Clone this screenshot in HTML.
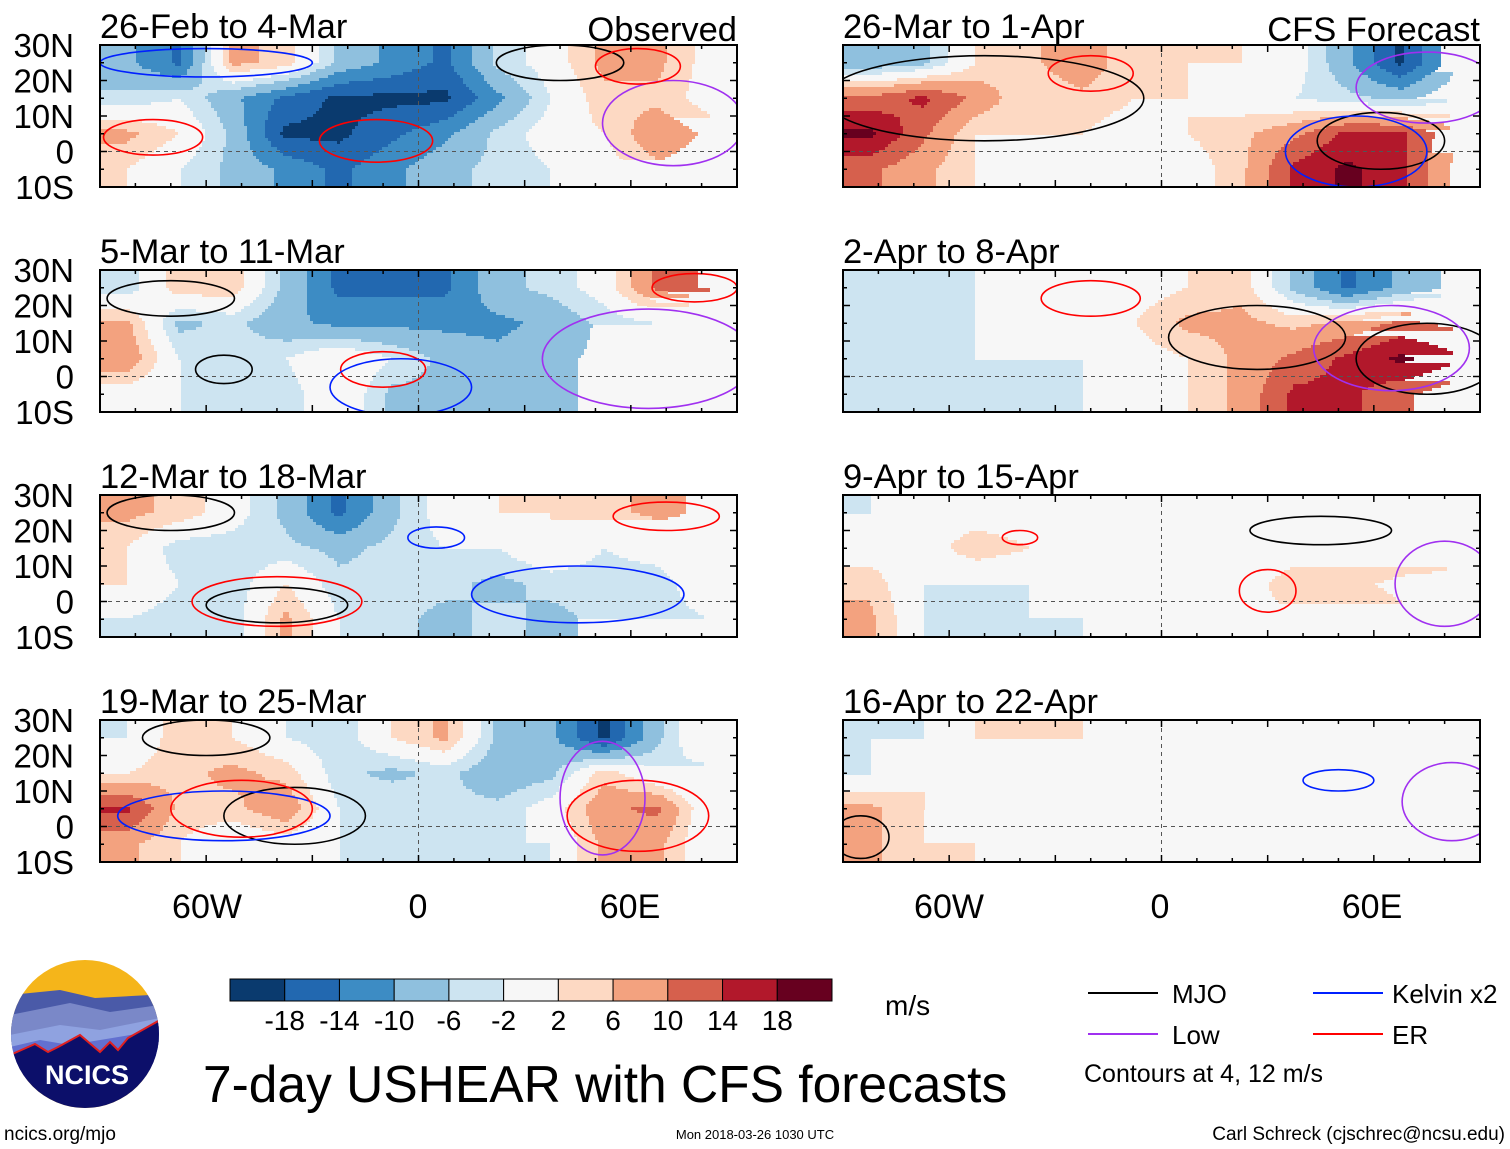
<!DOCTYPE html>
<html><head><meta charset="utf-8">
<style>
body{margin:0;background:#fff;}
svg{display:block;font-family:"Liberation Sans",sans-serif;}
</style></head>
<body>
<svg id="chart" width="1510" height="1149" viewBox="0 0 1510 1149" xmlns="http://www.w3.org/2000/svg">
<g id="panels"></g>

<g font-size="34" text-anchor="middle">
<text x="207" y="918">60W</text>
<text x="418" y="918">0</text>
<text x="630" y="918">60E</text>
<text x="949" y="918">60W</text>
<text x="1160" y="918">0</text>
<text x="1372" y="918">60E</text>
</g>

<g id="colorbar"></g>
<text x="885" y="1015" font-size="28">m/s</text>

<g>
<clipPath id="logoclip"><circle cx="85" cy="1034" r="74"/></clipPath>
<g clip-path="url(#logoclip)">
<rect x="0" y="955" width="170" height="160" fill="#f5b51a"/>
<path d="M10 995 L60 990 L95 998 L150 995 L160 1000 L160 1060 L10 1060Z" fill="#4a5aa8"/>
<path d="M10 1015 L70 1003 L110 1012 L160 1005 L160 1060 L10 1060Z" fill="#7a88c8"/>
<path d="M10 1035 L60 1025 L100 1030 L160 1018 L160 1070 L10 1070Z" fill="#8fa2e0"/>
<path d="M10 1047 L40 1040 L70 1045 L160 1030 L160 1080 L10 1080Z" fill="#6270d0"/>
<path d="M10 1055 L35 1044 L48 1052 L58 1047 L80 1035 L100 1052 L110 1042 L118 1050 L128 1038 L160 1020 L160 1120 L10 1120Z" fill="#0c0f6a" stroke="#e02020" stroke-width="2"/>
</g>
<text x="87" y="1084" font-size="27" font-weight="bold" fill="#fff" text-anchor="middle">NCICS</text>
</g>

<text x="203" y="1102" font-size="51.5">7-day USHEAR with CFS forecasts</text>

<g font-size="26">
<g><line x1="1088" y1="993" x2="1158" y2="993" stroke="#000" stroke-width="2"/><text x="1172" y="1003">MJO</text></g>
<g><line x1="1313" y1="993" x2="1383" y2="993" stroke="#0020ff" stroke-width="2"/><text x="1392" y="1003">Kelvin x2</text></g>
<g><line x1="1088" y1="1034" x2="1158" y2="1034" stroke="#a030f0" stroke-width="2"/><text x="1172" y="1044">Low</text></g>
<g><line x1="1313" y1="1034" x2="1383" y2="1034" stroke="#ff0000" stroke-width="2"/><text x="1392" y="1044">ER</text></g>
<text x="1084" y="1082" font-size="25">Contours at 4, 12 m/s</text>
</g>

<text x="4" y="1140" font-size="19">ncics.org/mjo</text>
<text x="755" y="1139" font-size="13" text-anchor="middle">Mon 2018-03-26 1030 UTC</text>
<text x="1505" y="1140" font-size="19" text-anchor="end">Carl Schreck (cjschrec@ncsu.edu)</text>
</svg>

<script>
// ---- data ----
const panelTitles = ["26-Feb to 4-Mar","5-Mar to 11-Mar","12-Mar to 18-Mar","19-Mar to 25-Mar",
                     "26-Mar to 1-Apr","2-Apr to 8-Apr","9-Apr to 15-Apr","16-Apr to 22-Apr"];
const latTickLabels = ["30N","20N","10N","0","10S"];
const latTicks = [30,20,10,0,-10];
const colorbarLabels = ["-18","-14","-10","-6","-2","2","6","10","14","18"];
// grid: 12 lon bins (15 deg, 90W..90E) x 4 lat rows (30-20N,20-10N,10-0,0-10S)
const shear1 = [[-8,-14,6,4,-6,-10,-14,-4,0,6,6,0],[-4,-2,-8,-14,-18,-18,-18,-10,-2,4,4,0],[6,2,-6,-18,-18,-14,-10,-4,0,2,8,4],[2,-2,-6,-10,-14,-10,-6,-4,-2,0,4,2]];
const shear2 = [[-4,4,4,-6,-14,-14,-14,-6,-4,0,10,14],[6,-6,-4,-8,-10,-10,-10,-10,-8,-4,-2,-4],[8,-2,-4,-2,2,-2,-6,-8,-6,-4,-4,-4],[0,-2,-4,-4,2,-6,-6,-8,-6,-4,-4,-2]];
const shear3 = [[6,4,0,-6,-14,-6,0,2,2,4,6,4],[2,-4,-4,-4,-6,-4,-2,-2,2,-2,0,4],[2,-2,-4,2,-4,-4,-4,-6,-4,-4,-4,2],[-2,-4,-4,6,-2,-4,-6,-4,-6,-4,-4,-2]];
const shear4 = [[-2,4,2,-2,-4,2,6,-6,-8,-18,-6,4],[2,4,6,4,-4,-6,-4,-8,-6,4,-2,-4],[14,4,4,8,-2,-2,-4,-4,0,8,10,-2],[6,2,-2,0,-2,-2,-2,-2,-2,6,6,-2]];
const shear5 = [[-8,-6,2,4,8,2,2,2,0,-8,-18,-6],[10,14,8,2,4,2,2,0,-2,-4,-6,-2],[18,10,2,2,2,0,2,4,8,14,14,6],[10,6,2,0,0,2,0,4,14,18,14,4]];
const shear6 = [[-4,-2,-2,0,2,0,2,4,-6,-14,-8,-4],[-2,-2,-2,0,2,2,6,6,4,6,10,8],[-4,-4,-2,-2,-2,0,2,6,10,14,18,14],[-2,-2,-2,-2,-2,0,2,6,14,14,10,6]];
const shear7 = [[-2,0,0,0,0,0,0,0,0,0,0,0],[0,0,4,2,2,0,0,-2,0,2,2,4],[4,-2,-2,-2,0,0,-2,0,4,4,6,6],[6,-2,-4,-2,-2,0,-2,0,2,2,4,4]];
const shear8 = [[-2,-2,2,2,2,0,0,0,0,0,0,2],[-2,2,2,0,-2,0,0,0,0,0,0,0],[6,2,0,-2,-2,0,0,0,0,2,2,2],[6,2,2,0,-2,0,0,0,0,2,4,4]];
const shearAll = [shear1,shear2,shear3,shear4,shear5,shear6,shear7,shear8];
// contours: [type, centerLon, centerLat, halfWidthLon, halfHeightLat]
const contours1 = [["er",-12,3,16,6],["er",-75,4,14,5],["low",72,8,20,12],["mjo",40,25,18,5],["er",62,24,12,5],["kelvin",-60,25,30,4]];
const contours2 = [["er",-10,2,12,5],["kelvin",-5,-3,20,8],["mjo",-55,2,8,4],["low",65,5,30,14],["er",78,25,12,4],["mjo",-70,22,18,5]];
const contours3 = [["mjo",-40,-1,20,5],["er",-40,0,24,7],["kelvin",45,2,30,8],["kelvin",5,18,8,3],["er",70,24,15,4],["mjo",-70,25,18,5]];
const contours4 = [["mjo",-35,3,20,8],["kelvin",-55,3,30,7],["er",-50,5,20,8],["er",62,3,20,10],["low",52,8,12,16],["mjo",-60,25,18,5]];
const contours5 = [["mjo",62,3,18,8],["kelvin",55,0,20,10],["er",-20,22,12,5],["mjo",-50,15,45,12],["low",75,18,20,10]];
const contours6 = [["mjo",27,11,25,9],["mjo",75,5,20,10],["er",-20,22,14,5],["low",65,8,22,12]];
const contours7 = [["mjo",45,20,20,4],["low",80,5,14,12],["er",-40,18,5,2],["er",30,3,8,6]];
const contours8 = [["kelvin",50,13,10,3],["low",82,7,14,11],["mjo",-85,-3,8,6]];
const contoursAll = [contours1,contours2,contours3,contours4,contours5,contours6,contours7,contours8];

// ---- rendering ----
const NS = "http://www.w3.org/2000/svg";
const colors = ["#0a3a6e","#2268b0","#3d8cc4","#8fc0de","#cde4f1","#f7f7f7","#fdd9c3","#f3a27f","#d6604d","#b2182b","#67001f"];
const contourColors = {mjo:"#000",kelvin:"#0020ff",low:"#a030f0",er:"#ff0000"};
function bin(v){
  if(v<=-17) return 0; if(v<=-13) return 1; if(v<=-9) return 2;
  if(v<=-5) return 3; if(v<=-2) return 4; if(v<2) return 5;
  if(v<5) return 6; if(v<9) return 7; if(v<13) return 8;
  if(v<17) return 9; return 10;
}
function mk(tag, attrs, parent){
  const e=document.createElementNS(NS,tag);
  for(const k in attrs) e.setAttribute(k,attrs[k]);
  parent.appendChild(e); return e;
}
function sample(grid, lon, lat){
  let fc=(lon+90)/15-0.5, fr=(30-lat)/10-0.5;
  fc=Math.max(0,Math.min(11,fc)); fr=Math.max(0,Math.min(3,fr));
  const c0=Math.min(10,Math.floor(fc)), r0=Math.min(2,Math.floor(fr));
  const tc=fc-c0, tr=fr-r0;
  const a=grid[r0][c0]*(1-tc)+grid[r0][c0+1]*tc;
  const b=grid[r0+1][c0]*(1-tc)+grid[r0+1][c0+1]*tc;
  return a*(1-tr)+b*tr;
}
const colX=[100,843], rowY=[45,270,495,720], PW=637, PH=142, STEP=3;
const panels=document.getElementById("panels");
for(let p=0;p<8;p++){
  const x0=colX[Math.floor(p/4)], y0=rowY[p%4];
  const xs=lon=>x0+(lon+90)*PW/180;
  const ys=lat=>y0+(30-lat)*PH/40;
  const g=mk("g",{},panels);
  
  
  const cid="clip"+p;
  const cp=mk("clipPath",{id:cid},g);
  mk("rect",{x:x0,y:y0,width:PW,height:PH},cp);
  const cg=mk("g",{"clip-path":"url(#"+cid+")"},g);
  mk("rect",{x:x0,y:y0,width:PW,height:PH,fill:"#f7f7f7"},cg);
  const hg=mk("g",{"shape-rendering":"crispEdges"},cg);
  
  
  const grid=shearAll[p];
  for(let py=0;py<PH;py+=STEP){
    const lat=30-(py+STEP/2)*40/PH;
    let runStart=0, runBin=-1;
    for(let px=0;px<=PW;px+=STEP){
      const b= px<PW ? bin(sample(grid,-90+(px+STEP/2)*180/PW,lat)) : -2;
      if(b!==runBin){
        if(runBin>=0){
          const cell=mk("rect",{x:x0+runStart,y:y0+py,width:px-runStart+1,height:STEP+1,fill:colors[runBin]},hg);
          
          
        }
        runStart=px; runBin=b;
      }
    }
  }
  mk("line",{x1:x0,y1:ys(0),x2:x0+PW,y2:ys(0),stroke:"#555","stroke-dasharray":"4,4","stroke-width":1},cg);
  mk("line",{x1:xs(0),y1:y0,x2:xs(0),y2:y0+PH,stroke:"#555","stroke-dasharray":"4,4","stroke-width":1},cg);
  for(const ct of contoursAll[p]){
    const e=mk("ellipse",{cx:xs(ct[1]),cy:ys(ct[2]),rx:ct[3]*PW/180,ry:ct[4]*PH/40,fill:"none",stroke:contourColors[ct[0]],"stroke-width":1.6},cg);
    
    
  }
  mk("rect",{x:x0,y:y0,width:PW,height:PH,fill:"none",stroke:"#000","stroke-width":2},g);
  for(let lon=-90;lon<=90;lon+=10){
    const len=(lon%30==0)?7:4;
    mk("line",{x1:xs(lon),y1:y0,x2:xs(lon),y2:y0+len,stroke:"#000","stroke-width":1.5},g);
    mk("line",{x1:xs(lon),y1:y0+PH,x2:xs(lon),y2:y0+PH-len,stroke:"#000","stroke-width":1.5},g);
  }
  for(let lat=-10;lat<=30;lat+=5){
    const len=(lat%10==0)?7:4;
    mk("line",{x1:x0,y1:ys(lat),x2:x0+len,y2:ys(lat),stroke:"#000","stroke-width":1.5},g);
    mk("line",{x1:x0+PW,y1:ys(lat),x2:x0+PW-len,y2:ys(lat),stroke:"#000","stroke-width":1.5},g);
  }
  const t=mk("text",{x:x0,y:y0-7,"font-size":34.5},g);
  t.textContent=panelTitles[p];
  
  
  if(p==0||p==4){
    const s=mk("text",{x:x0+PW,y:y0-4,"font-size":34.5,"text-anchor":"end"},g);
    s.textContent=p==0?"Observed":"CFS Forecast";
    
    
  }
  if(p<4){
    latTicks.forEach((lat,i)=>{
      const l=mk("text",{x:74,y:ys(lat)+12,"font-size":33,"text-anchor":"end"},g);
      l.textContent=latTickLabels[i];
      
      
    });
  }
}
const cb=document.getElementById("colorbar");
const cbx=230, cbw=602/11;
colors.forEach((c,i)=>{
  const r=mk("rect",{x:cbx+i*cbw,y:979,width:cbw,height:22,fill:c,stroke:"#000","stroke-width":1},cb);
  
  
});
colorbarLabels.forEach((l,i)=>{
  const t=mk("text",{x:cbx+(i+1)*cbw,y:1030,"font-size":28,"text-anchor":"middle"},cb);
  t.textContent=l;
  
  
});
</script>
</body></html>
